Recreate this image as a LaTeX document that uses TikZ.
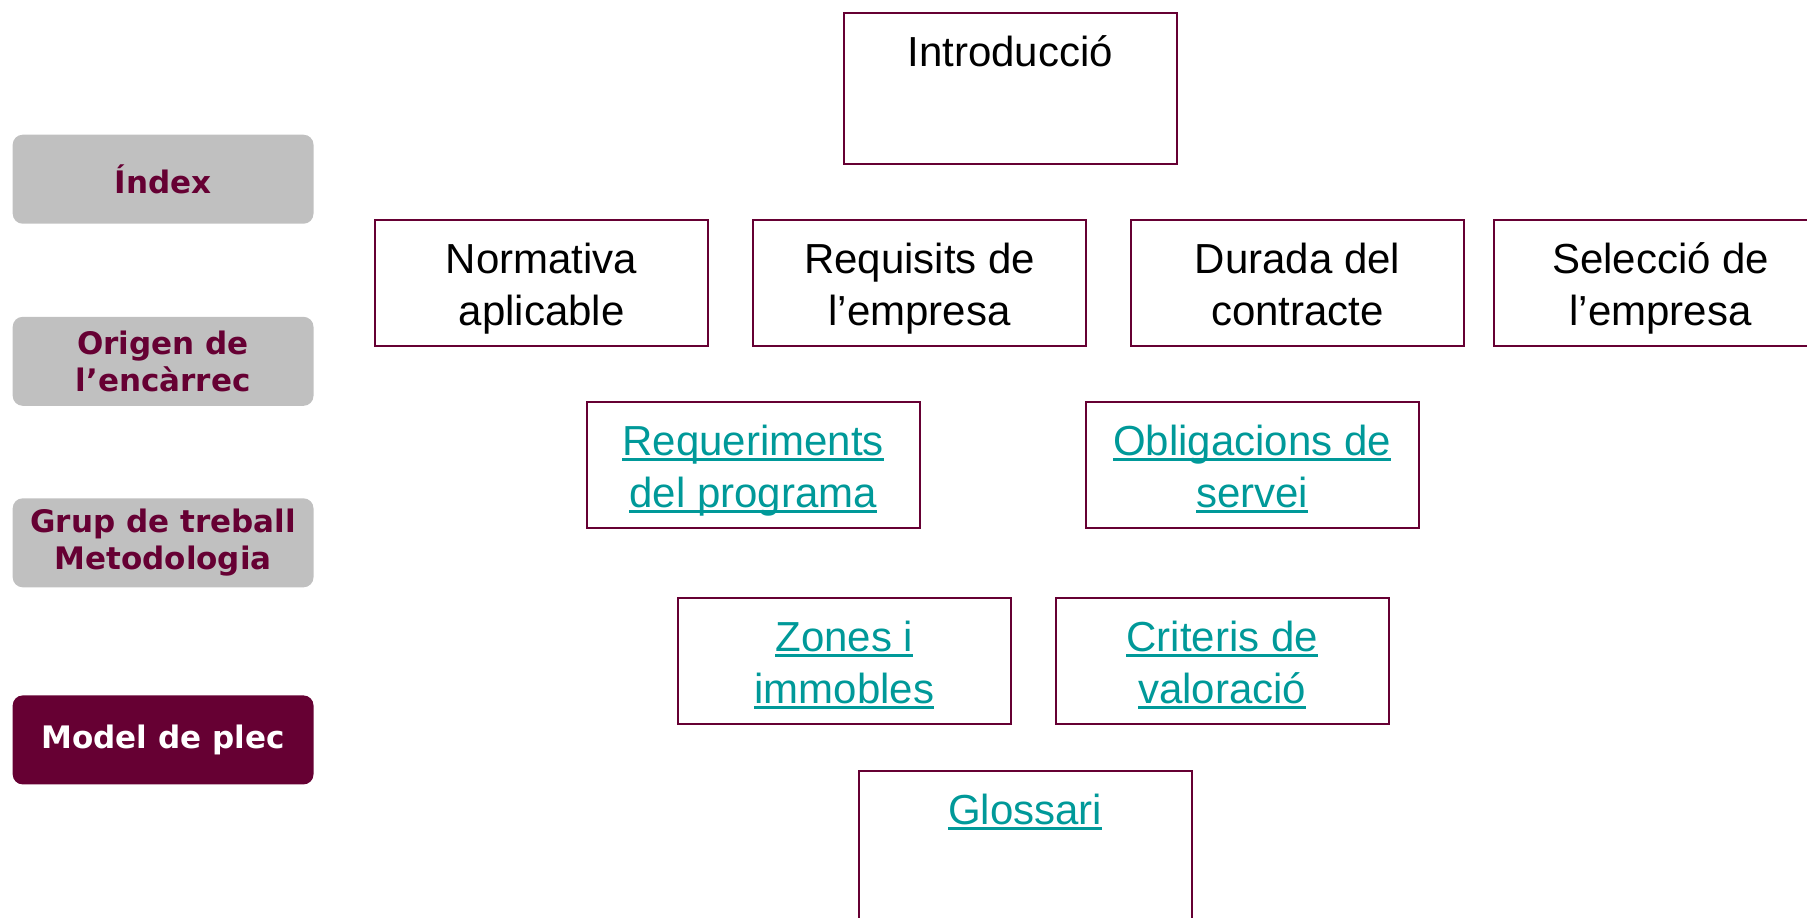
\documentclass[tikz,border=0pt]{standalone}
\usepackage{fontspec}
\setmainfont{Liberation Sans}
\newfontfamily\sidefont{DejaVu Sans}
\definecolor{maroon}{HTML}{660033}
\definecolor{sidegray}{HTML}{C0C0C0}
\definecolor{linkteal}{HTML}{009999}
\newcommand\lnk[1]{\leavevmode\setbox0\hbox{#1}\rlap{\rule[-2.6pt]{\wd0}{1.4pt}}\box0}
\begin{document}
\begin{tikzpicture}[x=0.5pt,y=-0.5pt,
  sidebox/.style={rounded corners=5pt, fill=sidegray, minimum width=150.4pt, minimum height=44.5pt, inner sep=0pt,
    font=\sidefont\bfseries\fontsize{15.5}{18.5}\selectfont, text=maroon, align=center},
  sideactive/.style={sidebox, fill=maroon, text=white},
  topic/.style={draw=maroon, line width=1pt, minimum width=166.5pt, minimum height=62.8pt, inner sep=0pt},
  tallbox/.style={topic, minimum height=75.5pt},
  boxtext/.style={anchor=north, inner sep=0pt, yshift=-8.8pt, font=\fontsize{21}{26}\selectfont, align=center},
  linktext/.style={boxtext, text=linkteal}]
\useasboundingbox (0,0) rectangle (1807,917);
% sidebar
\node[sidebox] (s1) at (163.1,179.2) {Índex};
\node[sidebox] (s2) at (163.1,361.3) {Origen de\\l’encàrrec};
\node[sidebox] (s3) at (163.1,542.8) {Grup de treball\\Metodologia};
\node[sideactive] (s4) at (163.1,739.9) {Model de plec};
% boxes
\node[tallbox] (intro) at (1010.1,88.2) {};
\node[boxtext] (intro-t) at (intro.north) {\strut Introducció};
\node[topic] (norm) at (541.6,282.9) {};
\node[boxtext] (norm-t) at (norm.north) {\strut Normativa\\aplicable};
\node[topic] (req) at (919.6,282.9) {};
\node[boxtext] (req-t) at (req.north) {\strut Requisits de\\l’empresa};
\node[topic] (dur) at (1297.6,282.9) {};
\node[boxtext] (dur-t) at (dur.north) {\strut Durada del\\contracte};
\node[topic] (sel) at (1660.6,282.9) {};
\node[boxtext] (sel-t) at (sel.north) {\strut Selecció de\\l’empresa};
\node[topic] (reqp) at (753.1,465) {};
\node[linktext] (reqp-t) at (reqp.north) {\strut\lnk{Requeriments}\\\lnk{del programa}};
\node[topic] (obl) at (1252.1,465) {};
\node[linktext] (obl-t) at (obl.north) {\strut\lnk{Obligacions de}\\\lnk{servei}};
\node[topic] (zon) at (844.2,660.9) {};
\node[linktext] (zon-t) at (zon.north) {\strut\lnk{Zones i}\\\lnk{immobles}};
\node[topic] (cri) at (1222.1,660.9) {};
\node[linktext] (cri-t) at (cri.north) {\strut\lnk{Criteris de}\\\lnk{valoració}};
\node[tallbox] (glo) at (1025.1,846.5) {};
\node[linktext] (glo-t) at (glo.north) {\strut\lnk{Glossari}};
\end{tikzpicture}
\end{document}
